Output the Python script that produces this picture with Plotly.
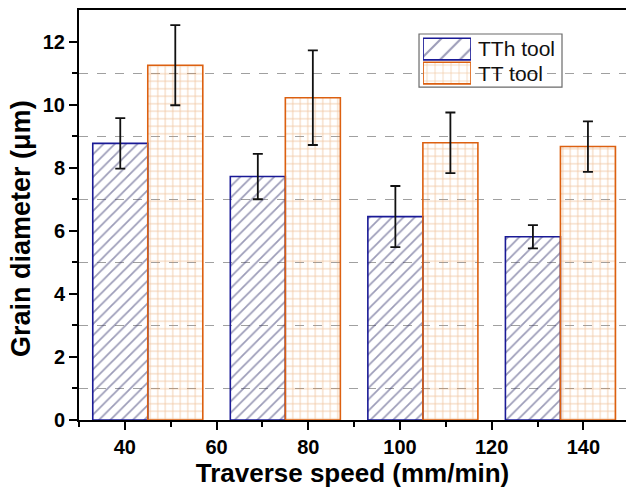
import plotly.graph_objects as go

# ---- data ----
speed_groups = [45, 75, 105, 135]          # group centres on the numeric x axis
series_names = ["TTh tool", "TT tool"]
tth_values = [8.77, 7.72, 6.45, 5.81]
tth_errors = [0.80, 0.72, 0.97, 0.37]
tt_values = [11.25, 10.22, 8.79, 8.67]
tt_errors = [1.27, 1.50, 0.96, 0.80]
x_tick_vals = [40, 60, 80, 100, 120, 140]
y_tick_vals = [0, 2, 4, 6, 8, 10, 12]
y_grid_vals = [1, 3, 5, 7, 9, 11]
x_title = "Traverse speed (mm/min)"
y_title = "Grain diameter (μm)"

# ---- styles ----
TTH_EDGE = "#1a1a96"
TTH_HATCH = "#3a3a72"
TT_EDGE = "#dc6010"
TT_GRID = "#e08a3c"
FONT = "Liberation Sans, Arial, sans-serif"

fig = go.Figure()

fig.add_trace(go.Bar(
    x=speed_groups, y=tth_values, name=series_names[0],
    error_y=dict(type="data", array=tth_errors, color="#111111", thickness=1.8, width=5),
    marker=dict(color="rgba(0,0,0,0)",
                line=dict(color=TTH_EDGE, width=1.6),
                pattern=dict(shape="/", size=8, solidity=0.22, fgcolor=TTH_HATCH,
                             bgcolor="rgba(0,0,0,0)", fillmode="overlay")),
    showlegend=False,
))
fig.add_trace(go.Bar(
    x=speed_groups, y=tt_values, name=series_names[1],
    error_y=dict(type="data", array=tt_errors, color="#111111", thickness=1.8, width=5),
    marker=dict(color="rgba(0,0,0,0)",
                line=dict(color=TT_EDGE, width=1.6),
                pattern=dict(shape="+", size=7.5, solidity=0.2, fgcolor=TT_GRID,
                             bgcolor="rgba(0,0,0,0)", fillmode="overlay")),
    showlegend=False,
))

# ---- legend swatches drawn as bars on a hidden inset axis ----
fig.add_trace(go.Bar(
    x=[1, 1], y=[1, 0], orientation="h", width=0.9,
    xaxis="x2", yaxis="y2", hoverinfo="skip", showlegend=False,
    marker=dict(color="rgba(255,255,255,1)",
                line=dict(color=[TTH_EDGE, TT_EDGE], width=1.6),
                pattern=dict(shape=["/", "+"], size=[14, 8], solidity=0.15,
                             fgcolor=[TTH_HATCH, TT_GRID], fillmode="overlay")),
))

fig.update_layout(
    width=626, height=490,
    margin=dict(l=79, r=0, t=10, b=70),
    paper_bgcolor="white", plot_bgcolor="white",
    barmode="group", bargap=0.2, bargroupgap=0,
    font=dict(family=FONT, color="black"),
    xaxis=dict(
        range=[30, 149.3], tickvals=x_tick_vals,
        ticks="outside", ticklen=8, tickwidth=1.6, tickcolor="black",
        minor=dict(dtick=10, tick0=30, ticks="outside", ticklen=5, tickwidth=1.6, tickcolor="black"),
        showline=True, linewidth=2, linecolor="black", mirror=True,
        showgrid=False, zeroline=False,
        tickfont=dict(size=20, family=FONT, weight="bold"),
        title=dict(text="<b>" + x_title + "</b>", font=dict(size=26, family=FONT), standoff=6),
    ),
    yaxis=dict(
        range=[0, 13], tickvals=y_tick_vals,
        ticks="outside", ticklen=8, tickwidth=1.6, tickcolor="black",
        minor=dict(tickvals=y_grid_vals, ticks="outside", ticklen=5, tickwidth=1.6, tickcolor="black",
                   showgrid=True, gridcolor="#a0a0a0", gridwidth=1.4, griddash="dash"),
        showline=True, linewidth=2, linecolor="black", mirror=False,
        showgrid=False, zeroline=False,
        tickfont=dict(size=20, family=FONT, weight="bold"),
    ),
    xaxis2=dict(domain=[0.629, 0.7166], range=[0, 1], visible=False, anchor="y2", fixedrange=True),
    yaxis2=dict(domain=[0.817, 0.934], range=[-0.5, 1.5], visible=False, anchor="x2", fixedrange=True),
)

# y-axis title placed like the reference (slightly below the axis centre)
fig.add_annotation(text="<b>" + y_title + "</b>", xref="paper", yref="paper",
                   x=-0.106, y=0.466, textangle=-90, showarrow=False,
                   xanchor="center", yanchor="middle",
                   font=dict(size=27, family=FONT, color="black"))

# legend box
fig.add_shape(type="rect", xref="paper", yref="paper",
              x0=0.6216, x1=0.883, y0=0.812, y1=0.9415,
              line=dict(color="#6a6a6a", width=1.2), fillcolor="white", layer="between")

for label, yy in zip(series_names, [0.906, 0.845]):
    fig.add_annotation(text=label, xref="paper", yref="paper", x=0.726, y=yy,
                       xanchor="left", yanchor="middle", showarrow=False,
                       font=dict(size=21, family=FONT, color="#111111"))

fig.write_html("out.html")
